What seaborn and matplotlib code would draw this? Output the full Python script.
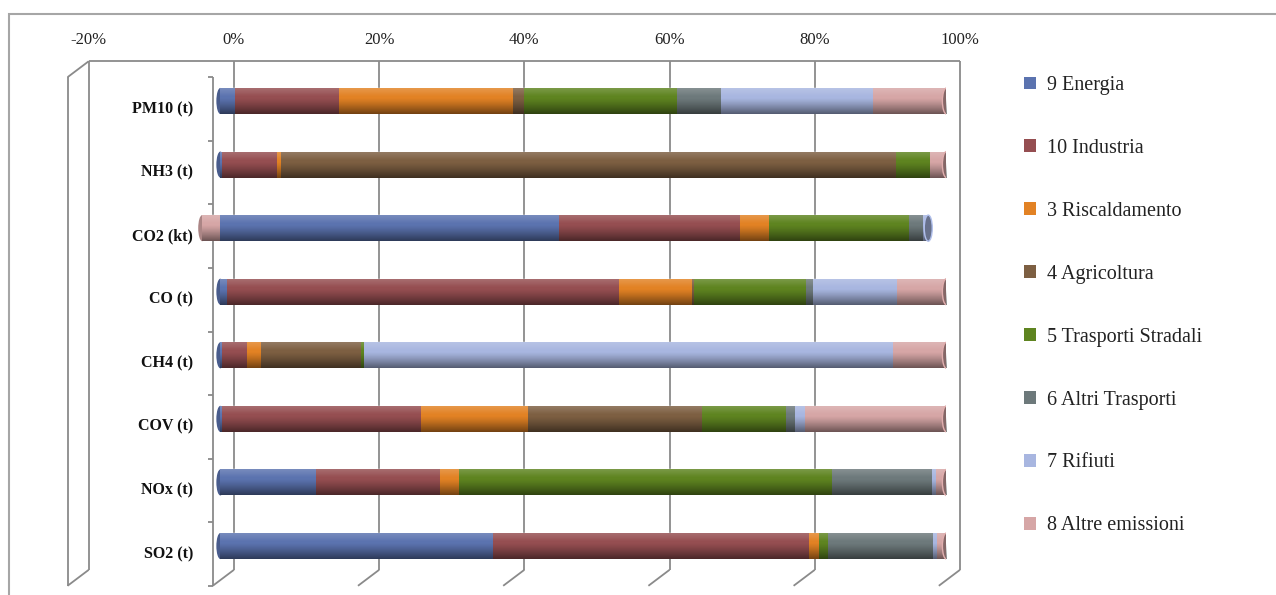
import numpy as np
import pandas as pd
import matplotlib
matplotlib.use("Agg")
import matplotlib.pyplot as plt
import matplotlib.transforms as mtransforms
from matplotlib.patches import Ellipse, Rectangle, Patch
from matplotlib.colors import to_rgb
import seaborn as sns

# Inquinanti (dall'alto in basso)
categorie = ["PM10 (t)", "NH3 (t)", "CO2 (kt)", "CO (t)", "CH4 (t)", "COV (t)", "NOx (t)", "SO2 (t)"]
settori = ["9 Energia", "10 Industria", "3 Riscaldamento", "4 Agricoltura",
           "5 Trasporti Stradali", "6 Altri Trasporti", "7 Rifiuti", "8 Altre emissioni"]
tick_pct = [-20, 0, 20, 40, 60, 80, 100]

# quota % di ciascun settore per inquinante
energia        = [2.0, 0.2, 46.7, 0.9, 0.2, 0.2, 13.2, 37.5]
industria      = [14.4, 7.6, 24.9, 54.0, 3.4, 27.5, 17.0, 43.6]
riscaldamento  = [23.9, 0.5, 4.0, 10.0, 2.0, 14.7, 2.6, 1.3]
agricoltura    = [1.5, 84.8, 0.0, 0.3, 13.8, 23.9, 0.0, 0.0]
trasp_stradali = [21.1, 4.7, 19.2, 15.4, 0.4, 11.6, 51.4, 1.3]
altri_trasp    = [6.1, 0.0, 2.0, 1.0, 0.0, 1.3, 13.8, 14.5]
rifiuti        = [20.9, 0.0, 0.7, 11.6, 72.8, 1.3, 0.5, 0.5]
altre_emiss    = [10.1, 2.2, -2.5, 6.8, 7.4, 19.5, 1.5, 1.3]

colori = ["#5B73AF", "#954E51", "#E28224", "#7D5F42", "#5E8420", "#6D797B", "#A8B6E0", "#D6A6A6"]

df = pd.DataFrame(dict(zip(settori, [energia, industria, riscaldamento, agricoltura,
                                     trasp_stradali, altri_trasp, rifiuti, altre_emiss])),
                  index=categorie)
pos = df.clip(lower=0).cumsum(axis=1)
neg = df.clip(upper=0).cumsum(axis=1)

sns.set_theme(style="white")
plt.rcParams['font.family'] = ['Liberation Serif', 'DejaVu Serif']

W, Hfig = 12.76, 5.95
fig = plt.figure(figsize=(W, Hfig), dpi=100)
ax = fig.add_axes([0.0589, 0.0289, 0.6828, 0.8548])

BAR_H = 0.41
# barre impilate: cumulate disegnate dalla piu lunga alla piu corta
for s, c in reversed(list(zip(settori, colori))):
    sns.barplot(x=pos[s].values, y=categorie, orient="h", color=c, saturation=1,
                width=BAR_H, linewidth=0, edgecolor="none", ax=ax, zorder=2)
    if (neg[s] < 0).any():
        sns.barplot(x=neg[s].values, y=categorie, orient="h", color=c, saturation=1,
                    width=BAR_H, linewidth=0, edgecolor="none", ax=ax, zorder=2)

ax.set_xlim(-20, 100)
ax.set_ylim(7.5, -0.5)

# px per unita di dati
px_x = 0.6828 * W * 100 / 120.0
px_y = 0.8548 * Hfig * 100 / 8.0

# sfumatura cilindrica
n = 64
t = np.linspace(0, 1, n)[:, None]
shade = np.zeros((n, 1, 4))
light = np.clip((0.35 - t) / 0.35, 0, 1) * 0.20
dark = np.clip((t - 0.4) / 0.6, 0, 1) ** 1.2 * 0.5
shade[..., :3] = np.where(light > 0, 1.0, 0.0)[..., None]
shade[..., 3] = light + dark

cap_w = 8 / px_x
for i, cat in enumerate(categorie):
    x0 = neg.loc[cat].min()
    x1 = pos.loc[cat].iloc[-1]
    ax.imshow(shade, extent=(x0, x1, i + BAR_H / 2, i - BAR_H / 2), aspect="auto",
              interpolation="bilinear", zorder=3)
    vals = df.loc[cat]
    last = [c for v, c in zip(vals, colori) if v > 0][-1]
    first = colori[int(np.argmin(vals))] if x0 < 0 else [c for v, c in zip(vals, colori) if v > 0][0]
    rc = np.array(to_rgb(last))
    ax.add_patch(Ellipse((x1, i), cap_w, BAR_H, facecolor=rc * 0.62,
                         edgecolor=np.clip(rc * 1.05, 0, 1), lw=1.0, zorder=4))
    fc = np.array(to_rgb(first))
    ax.add_patch(Ellipse((x0, i), cap_w, BAR_H, facecolor=fc * 0.8, lw=0, zorder=1.8))

ax.set_xlim(-20, 100)
ax.set_ylim(7.5, -0.5)
ax.axis("off")

def offset(dx, dy):
    return mtransforms.ScaledTranslation(dx / 100, dy / 100, fig.dpi_scale_trans)

back = ax.transData + offset(13.6, 8)
front = ax.transData + offset(-7.6, -8)
ddx = 21.2 / px_x
ddy = 16 / px_y
gc = "#8a8a8a"
lk = dict(color=gc, lw=1.3, clip_on=False, solid_capstyle="butt")

# parete di fondo
for x in tick_pct[1:]:
    ax.plot([x, x], [-0.5, 7.5], transform=back, zorder=1, **lk)
ax.plot([tick_pct[0], tick_pct[-1]], [-0.5, -0.5], transform=back, zorder=1, **lk)
ax.plot([-20, -20], [-0.5, 7.5], transform=back, zorder=1, **lk)
# parete laterale
ax.plot([-20, -20], [-0.5, 7.5], transform=front, zorder=1, **lk)
ax.plot([-20, -20 + ddx], [-0.5, -0.5 - ddy], transform=front, zorder=1, **lk)
# pavimento
for x in tick_pct:
    ax.plot([x, x + ddx], [7.5, 7.5 - ddy], transform=front, zorder=1, **lk)
# asse categorie
ax.plot([0, 0], [-0.5, 7.5], transform=front, zorder=1, **lk)
for yb in np.arange(-0.5, 8.0, 1.0):
    ax.plot([-5 / px_x, 0], [yb, yb], transform=front, zorder=1, **lk)

for i, cat in enumerate(categorie):
    ax.text(-19.5 / px_x, i, cat, transform=front, ha="right", va="center",
            fontsize=11.5, fontweight="bold", color="#111111")
for x in tick_pct:
    ax.text(x, -0.5 - 21 / px_y, f"{x}%", transform=back, ha="center", va="center",
            fontsize=12, color="#222222")

handles = [Patch(facecolor=c, edgecolor="none") for c in colori]
fig.legend(handles, settori, loc="upper left", bbox_to_anchor=(1016 / 1276, 1 - 68 / 595),
           frameon=False, fontsize=14.5, handlelength=0.6, handleheight=0.6,
           handletextpad=0.55, labelspacing=2.18, borderaxespad=0, labelcolor="#222222")

fig.add_artist(Rectangle((9 / 1276, -0.5), 2, 1.5 - 14 / 595, transform=fig.transFigure,
                         fill=False, edgecolor="#a6a6a6", lw=1.5))

fig.savefig("out.png", dpi=100)
